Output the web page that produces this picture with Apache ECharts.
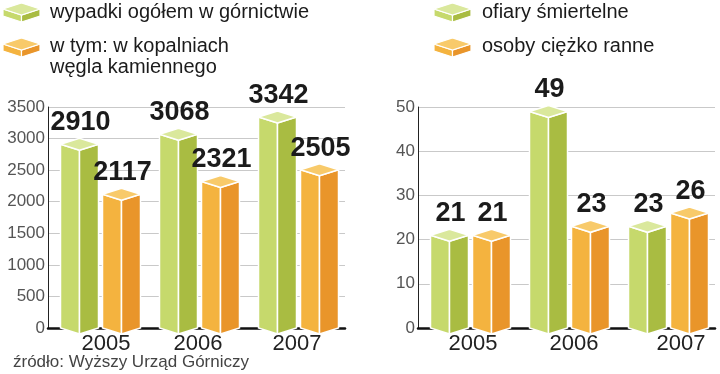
<!DOCTYPE html>
<html><head><meta charset="utf-8">
<script src="https://cdn.jsdelivr.net/npm/echarts@6/dist/echarts.min.js"></script>
<style>html,body{margin:0;padding:0;background:#fff}#c{width:720px;height:374px}</style>
</head><body><div id="c"></div>
<script>
const years = ['2005', '2006', '2007'];
const accidentsTotal = [2910, 3068, 3342];
const accidentsCoal = [2117, 2321, 2505];
const fatalities = [21, 49, 23];
const seriouslyInjured = [21, 23, 26];
const leftAxis = { min: 0, max: 3500, interval: 500 };
const rightAxis = { min: 0, max: 50, interval: 10 };
const legendLeft = ['wypadki ogółem w górnictwie', 'w tym: w kopalniach\nwęgla kamiennego'];
const legendRight = ['ofiary śmiertelne', 'osoby ciężko ranne'];
const sourceText = 'źródło: Wyższy Urząd Górniczy';

const GREEN = { left: '#c6d96c', right: '#a9bc42', top: '#dae89c' };
const ORANGE = { left: '#f4b33f', right: '#e9952a', top: '#f8ca6a' };
const FONT = 'Liberation Sans, Arial, sans-serif';

function prism(cx, yv, y0, hw, d, col) {
  const s = { stroke: '#fff', lineWidth: 1.5 };
  return [
    { type: 'polygon', shape: { points: [[cx - hw, yv], [cx, yv + d], [cx, y0 + d], [cx - hw, y0]] }, style: Object.assign({ fill: col.left }, s) },
    { type: 'polygon', shape: { points: [[cx, yv + d], [cx + hw, yv], [cx + hw, y0], [cx, y0 + d]] }, style: Object.assign({ fill: col.right }, s) },
    { type: 'polygon', shape: { points: [[cx - hw, yv], [cx, yv - d], [cx + hw, yv], [cx, yv + d]] }, style: Object.assign({ fill: col.top }, s) }
  ];
}

function makeRender(offset, col) {
  return function (params, api) {
    const idx = api.value(0), v = api.value(1);
    const c = api.coord([idx, v]);
    const b = api.coord([idx, 0]);
    const cx = c[0] + offset, d = 6;
    const children = prism(cx, c[1], b[1], 19, d, col);
    children.push({
      type: 'text',
      style: { text: String(v), x: cx + 1, y: c[1] - d - 2, textAlign: 'center', textVerticalAlign: 'bottom',
        font: 'bold 27px ' + FONT, fill: '#1b1b1b' }
    });
    return { type: 'group', children };
  };
}

function series(data, xi, offset, col) {
  return { type: 'custom', xAxisIndex: xi, yAxisIndex: xi, renderItem: makeRender(offset, col),
    data: data.map((v, i) => [i, v]), clip: false, z: 3 };
}

function icon(x, y, col) {
  const w = 37, hw = w / 2, d = 6, h = 7;
  const cx = x + hw;
  const s = { stroke: '#fff', lineWidth: 1.2 };
  return [
    { type: 'polygon', shape: { points: [[x, y], [cx, y + d], [cx, y + d + h], [x, y + h]] }, style: Object.assign({ fill: col.left }, s) },
    { type: 'polygon', shape: { points: [[cx, y + d], [x + w, y], [x + w, y + h], [cx, y + d + h]] }, style: Object.assign({ fill: col.right }, s) },
    { type: 'polygon', shape: { points: [[x, y], [cx, y - d], [x + w, y], [cx, y + d]] }, style: Object.assign({ fill: col.top }, s) }
  ];
}

function txt(t, x, y, size, color, lh) {
  return { type: 'text', style: { text: t, x, y, font: size + 'px ' + FONT, fill: color, textVerticalAlign: 'top', lineHeight: lh || size } };
}

function xAxisCfg(gi, pads) {
  const base = { fontSize: 22, color: '#222', fontFamily: FONT };
  return {
    type: 'category', gridIndex: gi, data: years,
    axisLine: { show: true, lineStyle: { color: '#111', width: 2.5 } },
    axisTick: { show: false },
    axisLabel: { interval: 0, hideOverlap: false, margin: 5, fontSize: 22, color: '#222', fontFamily: FONT,
      formatter: (v, i) => '{p' + i + '|' + v + '}',
      rich: { p0: Object.assign({ padding: [0, 0, 0, pads[0]] }, base),
              p1: Object.assign({ padding: [0, 0, 0, pads[1]] }, base),
              p2: Object.assign({ padding: [0, 0, 0, pads[2]] }, base) } }
  };
}
function yAxisCfg(gi, ax) {
  return {
    type: 'value', gridIndex: gi, min: ax.min, max: ax.max, interval: ax.interval,
    axisLine: { show: true, lineStyle: { color: '#222', width: 1 } },
    axisTick: { show: false },
    axisLabel: { margin: 3, fontSize: 17, color: '#555', fontFamily: FONT, formatter: v => String(v) },
    splitLine: { show: true, lineStyle: { color: '#c9c9c9', width: 1 } }
  };
}

const chart = echarts.init(document.getElementById('c'), null, { renderer: 'canvas' });
chart.setOption({
  animation: false,
  backgroundColor: '#fff',
  grid: [
    { left: 48, right: 375, top: 107, bottom: 46 },
    { left: 418, right: 5, top: 107, bottom: 46 }
  ],
  xAxis: [xAxisCfg(0, [17, 3, 3]), xAxisCfg(1, [11, 15, 31])],
  yAxis: [yAxisCfg(0, leftAxis), yAxisCfg(1, rightAxis)],
  series: [
    series(accidentsTotal, 0, -18, GREEN),
    series(accidentsCoal, 0, 24, ORANGE),
    series(fatalities, 1, -18, GREEN),
    series(seriouslyInjured, 1, 24, ORANGE)
  ],
  graphic: [].concat(
    icon(3, 9, GREEN), icon(3, 44, ORANGE),
    icon(434, 9, GREEN), icon(434, 44, ORANGE),
    [txt(legendLeft[0], 50, 2, 20, '#1b1b1b'),
     txt(legendLeft[1], 50, 36, 20, '#1b1b1b', 21),
     txt(legendRight[0], 482, 2, 20, '#1b1b1b'),
     txt(legendRight[1], 482, 36, 20, '#1b1b1b'),
     txt(sourceText, 13, 354, 17, '#444')]
  )
});
</script></body></html>
